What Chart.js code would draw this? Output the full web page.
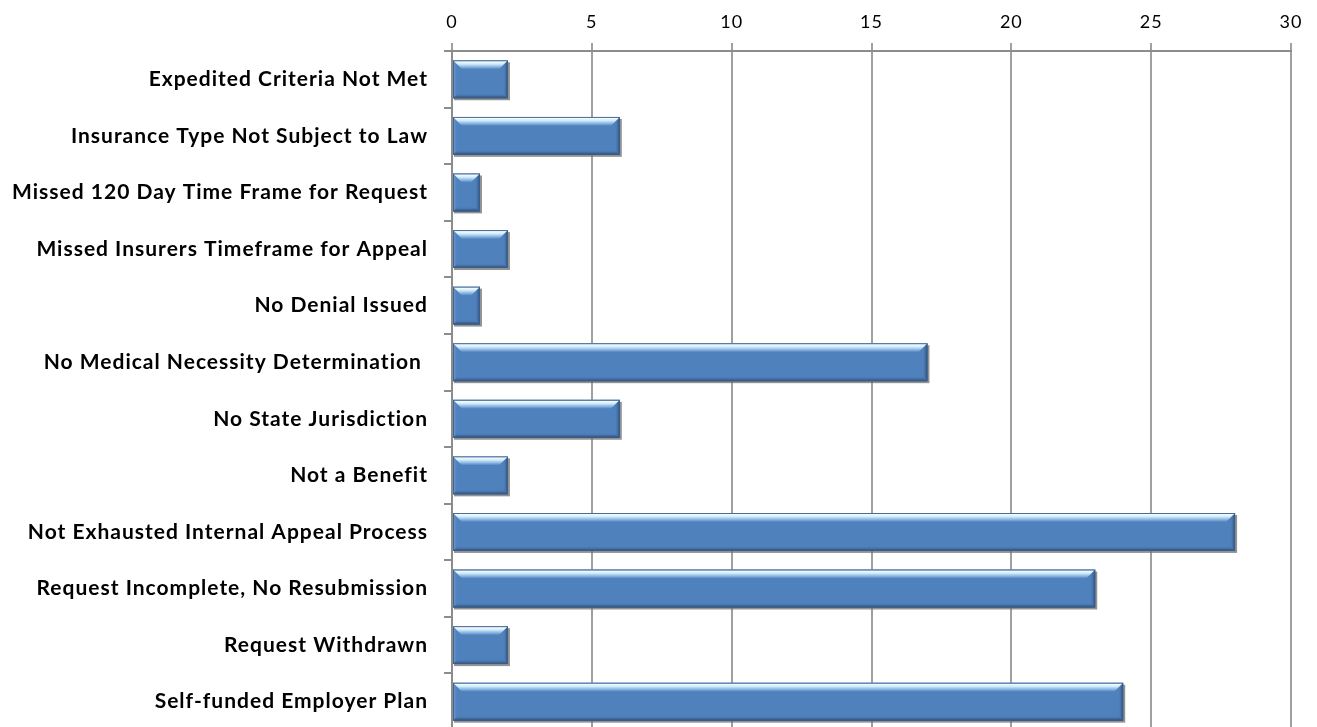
<!DOCTYPE html>
<html>
<head>
<meta charset="utf-8">
<script src="https://cdn.jsdelivr.net/npm/chart.js@4/dist/chart.umd.min.js"></script>
<style>
  html, body { margin: 0; padding: 0; background: #ffffff; overflow: hidden; }
  #wrap { width: 1317px; height: 727px; overflow: hidden; }
  canvas { display: block; }
</style>
</head>
<body>
<div id="wrap"><canvas id="chart" width="1317" height="730"></canvas></div>
<script>
// Reasons cited for closing requests without a review
const categories = [
  'Expedited Criteria Not Met',
  'Insurance Type Not Subject to Law',
  'Missed 120 Day Time Frame for Request',
  'Missed Insurers Timeframe for Appeal',
  'No Denial Issued',
  'No Medical Necessity Determination ',
  'No State Jurisdiction',
  'Not a Benefit',
  'Not Exhausted Internal Appeal Process',
  'Request Incomplete, No Resubmission',
  'Request Withdrawn',
  'Self-funded Employer Plan'
];
const counts = [2, 6, 1, 2, 1, 17, 6, 2, 28, 23, 2, 24];
const axisMin = 0;
const axisMax = 30;
const axisStep = 5;

const BAR_BLUE = '#4F81BD';

// Slightly spaced lettering for all chart text
const letterSpacingPlugin = {
  id: 'letterSpacing',
  beforeDraw(chart) { chart.ctx.letterSpacing = '1px'; }
};

// Soft shadow under each bar, then a raised bevel on top of it
const bevelPlugin = {
  id: 'bevel',
  beforeDatasetDraw(chart, args) {
    const ctx = chart.ctx;
    ctx.save();
    args.meta.data.forEach(bar => {
      const p = bar.getProps(['x', 'y', 'base', 'height'], true);
      const L = Math.min(p.base, p.x), R = Math.max(p.base, p.x);
      const T = p.y - p.height / 2, B = p.y + p.height / 2;
      ctx.fillStyle = 'rgba(110,110,110,0.75)';
      ctx.fillRect(L + 1, T + 2, R - L + 1, B - T);
    });
    ctx.restore();
  },
  afterDatasetDraw(chart, args) {
    const ctx = chart.ctx;
    ctx.save();
    args.meta.data.forEach(bar => {
      const p = bar.getProps(['x', 'y', 'base', 'height'], true);
      const L = Math.min(p.base, p.x), R = Math.max(p.base, p.x);
      const T = p.y - p.height / 2, B = p.y + p.height / 2;
      const dt = 9, ds = 5, db = 5;

      // left face
      let g = ctx.createLinearGradient(L, 0, L + ds, 0);
      g.addColorStop(0, 'rgba(120,160,215,1)');
      g.addColorStop(1, 'rgba(79,129,189,0)');
      ctx.fillStyle = g;
      ctx.beginPath();
      ctx.moveTo(L, T); ctx.lineTo(L + dt, T + dt); ctx.lineTo(L + db, B - db); ctx.lineTo(L, B);
      ctx.closePath(); ctx.fill();

      // right face
      g = ctx.createLinearGradient(R, 0, R - ds, 0);
      g.addColorStop(0, 'rgba(40,72,112,1)');
      g.addColorStop(1, 'rgba(79,129,189,0)');
      ctx.fillStyle = g;
      ctx.beginPath();
      ctx.moveTo(R, T); ctx.lineTo(R - dt, T + dt); ctx.lineTo(R - db, B - db); ctx.lineTo(R, B);
      ctx.closePath(); ctx.fill();

      // bottom face
      g = ctx.createLinearGradient(0, B, 0, B - db);
      g.addColorStop(0, 'rgba(38,66,102,1)');
      g.addColorStop(1, 'rgba(79,129,189,0)');
      ctx.fillStyle = g;
      ctx.beginPath();
      ctx.moveTo(L, B); ctx.lineTo(R, B); ctx.lineTo(R - db, B - db); ctx.lineTo(L + db, B - db);
      ctx.closePath(); ctx.fill();

      // top face with highlight
      g = ctx.createLinearGradient(0, T, 0, T + dt);
      g.addColorStop(0, '#8fb3de');
      g.addColorStop(0.12, '#f6fdff');
      g.addColorStop(0.4, '#d2edfc');
      g.addColorStop(0.75, '#86b0df');
      g.addColorStop(1, BAR_BLUE);
      ctx.fillStyle = g;
      ctx.beginPath();
      ctx.moveTo(L, T); ctx.lineTo(R, T); ctx.lineTo(R - dt, T + dt); ctx.lineTo(L + dt, T + dt);
      ctx.closePath(); ctx.fill();

      // outline
      ctx.strokeStyle = 'rgba(60,95,140,0.9)';
      ctx.lineWidth = 1;
      ctx.strokeRect(L + 0.5, T + 0.5, R - L - 1, B - T - 1);
    });
    ctx.restore();
  }
};

new Chart(document.getElementById('chart'), {
  type: 'bar',
  data: {
    labels: categories,
    datasets: [{
      data: counts,
      backgroundColor: BAR_BLUE,
      borderWidth: 0,
      barPercentage: 0.67,
      categoryPercentage: 1.0
    }]
  },
  options: {
    indexAxis: 'y',
    responsive: false,
    animation: false,
    devicePixelRatio: 1,
    layout: { padding: { left: 0, right: 26, top: 0, bottom: 0 } },
    plugins: {
      legend: { display: false },
      tooltip: { enabled: false }
    },
    scales: {
      x: {
        position: 'top',
        min: axisMin,
        max: axisMax,
        ticks: {
          stepSize: axisStep,
          color: '#000000',
          font: { family: 'Lato', size: 18 },
          padding: 10
        },
        grid: { color: '#a0a0a0', lineWidth: 2, tickLength: 8 },
        border: { color: '#8c8c8c', width: 2 },
        afterFit: s => { s.height = 51; s.paddingLeft = 0; s.paddingRight = 0; }
      },
      y: {
        ticks: {
          color: '#000000',
          font: { family: 'Lato', size: 21, weight: 'bold' },
          padding: 16
        },
        grid: { drawOnChartArea: false, color: '#8c8c8c', lineWidth: 2, tickLength: 8, offset: true },
        border: { color: '#8c8c8c', width: 2 },
        afterFit: s => { s.width = 452; s.paddingTop = 0; s.paddingBottom = 0; }
      }
    }
  },
  plugins: [letterSpacingPlugin, bevelPlugin]
});
</script>
</body>
</html>
